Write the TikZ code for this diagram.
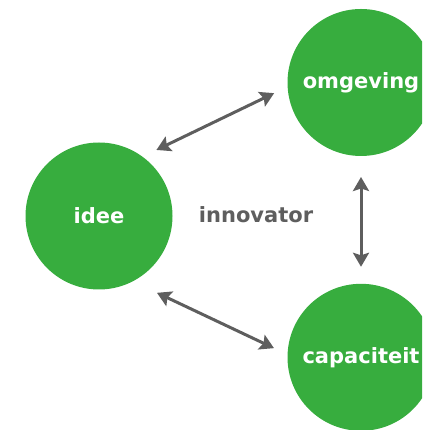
\documentclass[tikz,border=0pt]{standalone}
\usepackage{fontspec}
\setmainfont{DejaVu Sans}
\usetikzlibrary{arrows.meta}
\definecolor{blobgreen}{HTML}{37AD3E}
\definecolor{linkgray}{HTML}{5E5E5E}

\begin{document}
\begin{tikzpicture}[x=1pt, y=1pt,
    blob/.style={circle, fill=blobgreen, minimum size=147pt, inner sep=0pt, outer sep=14pt,
        text=white, font=\fontsize{21}{25}\selectfont\bfseries},
    link/.style={linkgray, line width=3pt,
        {Stealth[length=14pt,width=16pt,inset=2.5pt]}-{Stealth[length=14pt,width=16pt,inset=2.5pt]}}]
    \useasboundingbox (0,0) rectangle (422,430);
    \clip (0,0) rectangle (422,430);

    % three circles
    \node[blob] (idee) at (99,214) {idee};
    \node[blob] (omgeving) at (361,347.5) {omgeving};
    \node[blob] (capaciteit) at (361,72.7) {capaciteit};

    % label in the middle
    \node[anchor=base, text=linkgray, font=\fontsize{21}{25}\selectfont\bfseries] (innovator) at (256,207) {innovator};

    % arrows between the circles
    \draw[link] (idee.49) -- (omgeving.187.5);
    \draw[link, shorten <=10pt] (idee.-56) -- (capaciteit.174);
    \draw[link, shorten <=7pt, shorten >=3pt] (omgeving.-90) -- (capaciteit.90);
\end{tikzpicture}
\end{document}
